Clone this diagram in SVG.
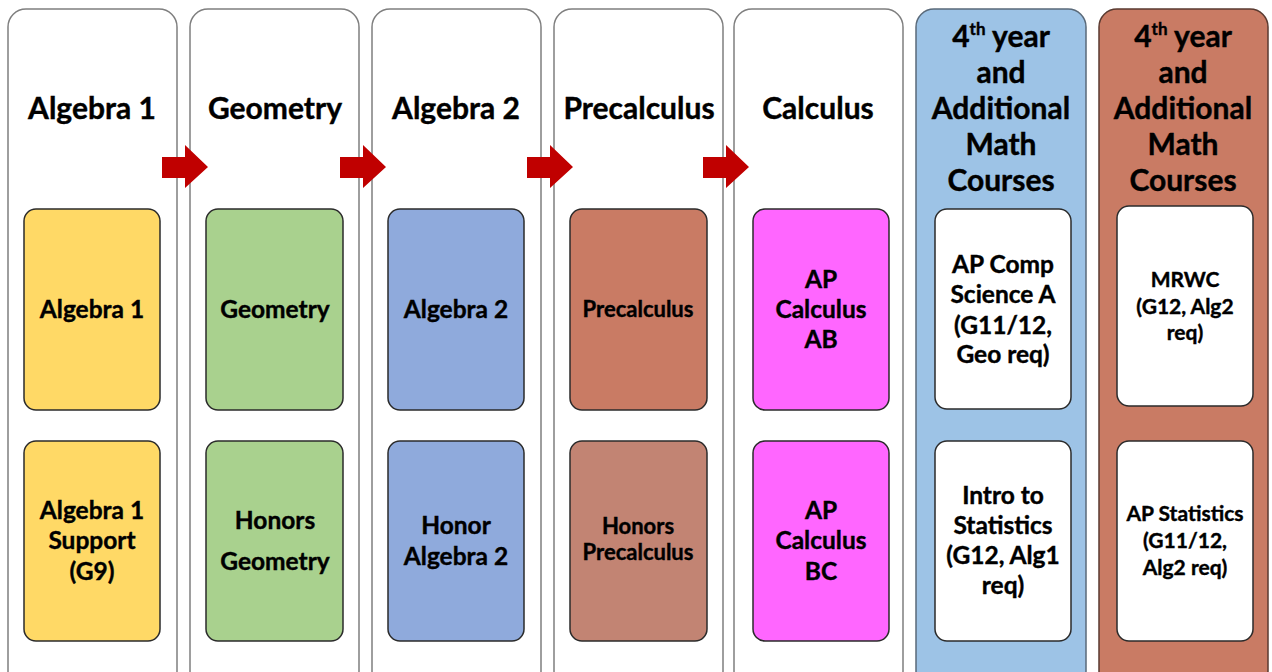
<svg xmlns="http://www.w3.org/2000/svg" width="1272" height="672" viewBox="0 0 1272 672">
<defs>
<style>
.col{fill:#ffffff;stroke:#7f7f7f;stroke-width:1.5}
.box{stroke:#2b2b2b;stroke-width:1.5}
text{font-family:Lato,"Liberation Sans",sans-serif;font-weight:bold;fill:#000;stroke:#000;stroke-width:0.4;text-anchor:middle}
.h{font-size:30px}
.t{font-size:24.5px}
.p{font-size:22px}
.s{font-size:21px}
.arrow{fill:#c00000}
</style>
</defs>
<rect width="1272" height="672" fill="#ffffff"/>
<g id="col-algebra1">
<rect class="col" x="8" y="9" width="169" height="680" rx="18"/>
<text class="h" x="92" y="119">Algebra 1</text>
<rect class="box" x="24" y="209" width="136" height="201" rx="12" fill="#ffd966"/>
<text class="t" x="92" y="318">Algebra 1</text>
<rect class="box" x="24" y="441" width="136" height="200" rx="12" fill="#ffd966"/>
<text class="t" x="92" y="519">Algebra 1</text>
<text class="t" x="92" y="549">Support</text>
<text class="t" x="92" y="580">(G9)</text>
</g>
<g id="col-geometry">
<rect class="col" x="190" y="9" width="169" height="680" rx="18"/>
<text class="h" x="275" y="119">Geometry</text>
<rect class="box" x="206" y="209" width="137" height="201" rx="12" fill="#a9d18e"/>
<text class="t" x="275" y="318">Geometry</text>
<rect class="box" x="206" y="441" width="137" height="200" rx="12" fill="#a9d18e"/>
<text class="t" x="275" y="529">Honors</text>
<text class="t" x="275" y="570">Geometry</text>
</g>
<g id="col-algebra2">
<rect class="col" x="372" y="9" width="169" height="680" rx="18"/>
<text class="h" x="456" y="119">Algebra 2</text>
<rect class="box" x="388" y="209" width="136" height="201" rx="12" fill="#8faadc"/>
<text class="t" x="456" y="318">Algebra 2</text>
<rect class="box" x="388" y="441" width="136" height="200" rx="12" fill="#8faadc"/>
<text class="t" x="456" y="534">Honor</text>
<text class="t" x="456" y="565">Algebra 2</text>
</g>
<g id="col-precalculus">
<rect class="col" x="554" y="9" width="169" height="680" rx="18"/>
<text class="h" x="639" y="119">Precalculus</text>
<rect class="box" x="570" y="209" width="137" height="201" rx="12" fill="#c97b64"/>
<text class="p" x="638" y="317">Precalculus</text>
<rect class="box" x="570" y="441" width="137" height="200" rx="12" fill="#c28473"/>
<text class="p" x="638" y="534">Honors</text>
<text class="p" x="638" y="560">Precalculus</text>
</g>
<g id="col-calculus">
<rect class="col" x="734" y="9" width="169" height="680" rx="18"/>
<text class="h" x="818" y="119">Calculus</text>
<rect class="box" x="753" y="209" width="136" height="201" rx="12" fill="#ff66ff"/>
<text class="t" x="821" y="288">AP</text>
<text class="t" x="821" y="318">Calculus</text>
<text class="t" x="821" y="348">AB</text>
<rect class="box" x="753" y="441" width="136" height="200" rx="12" fill="#ff66ff"/>
<text class="t" x="821" y="519">AP</text>
<text class="t" x="821" y="549">Calculus</text>
<text class="t" x="821" y="580">BC</text>
</g>
<g id="col-additional-blue">
<rect x="916" y="9" width="170" height="680" rx="18" fill="#9dc3e6" stroke="#5a6a7a" stroke-width="1.5"/>
<text class="h" x="1001" y="47">4<tspan font-size="17" dy="-12">th</tspan><tspan dy="12"> year</tspan></text>
<text class="h" x="1001" y="83">and</text>
<text class="h" x="1001" y="119">Additional</text>
<text class="h" x="1001" y="155">Math</text>
<text class="h" x="1001" y="191">Courses</text>
<rect class="box" x="935" y="209" width="136" height="200" rx="12" fill="#ffffff"/>
<text class="t" x="1003" y="273">AP Comp</text>
<text class="t" x="1003" y="303">Science A</text>
<text class="t" x="1003" y="334">(G11/12,</text>
<text class="t" x="1003" y="363">Geo req)</text>
<rect class="box" x="935" y="441" width="136" height="200" rx="12" fill="#ffffff"/>
<text class="t" x="1003" y="504">Intro to</text>
<text class="t" x="1003" y="534">Statistics</text>
<text class="t" x="1003" y="564">(G12, Alg1</text>
<text class="t" x="1003" y="594">req)</text>
</g>
<g id="col-additional-brown">
<rect x="1099" y="9" width="169" height="680" rx="18" fill="#c97b64" stroke="#5a3a30" stroke-width="1.5"/>
<text class="h" x="1183" y="47">4<tspan font-size="17" dy="-12">th</tspan><tspan dy="12"> year</tspan></text>
<text class="h" x="1183" y="83">and</text>
<text class="h" x="1183" y="119">Additional</text>
<text class="h" x="1183" y="155">Math</text>
<text class="h" x="1183" y="191">Courses</text>
<rect class="box" x="1117" y="206" width="136" height="200" rx="12" fill="#ffffff"/>
<text class="s" x="1185" y="287">MRWC</text>
<text class="s" x="1185" y="314">(G12, Alg2</text>
<text class="s" x="1185" y="340">req)</text>
<rect class="box" x="1117" y="441" width="136" height="200" rx="12" fill="#ffffff"/>
<text class="s" x="1185" y="521">AP Statistics</text>
<text class="s" x="1185" y="548">(G11/12,</text>
<text class="s" x="1185" y="575">Alg2 req)</text>
</g>
<g id="connectors">
<polygon class="arrow" points="162,157 185,157 185,145 208,167 185,188 185,178 162,178"/>
<polygon class="arrow" points="340,157 363,157 363,145 386,167 363,188 363,178 340,178"/>
<polygon class="arrow" points="527,157 550,157 550,145 573,167 550,188 550,178 527,178"/>
<polygon class="arrow" points="703,157 726,157 726,145 749,167 726,188 726,178 703,178"/>
</g>
</svg>
